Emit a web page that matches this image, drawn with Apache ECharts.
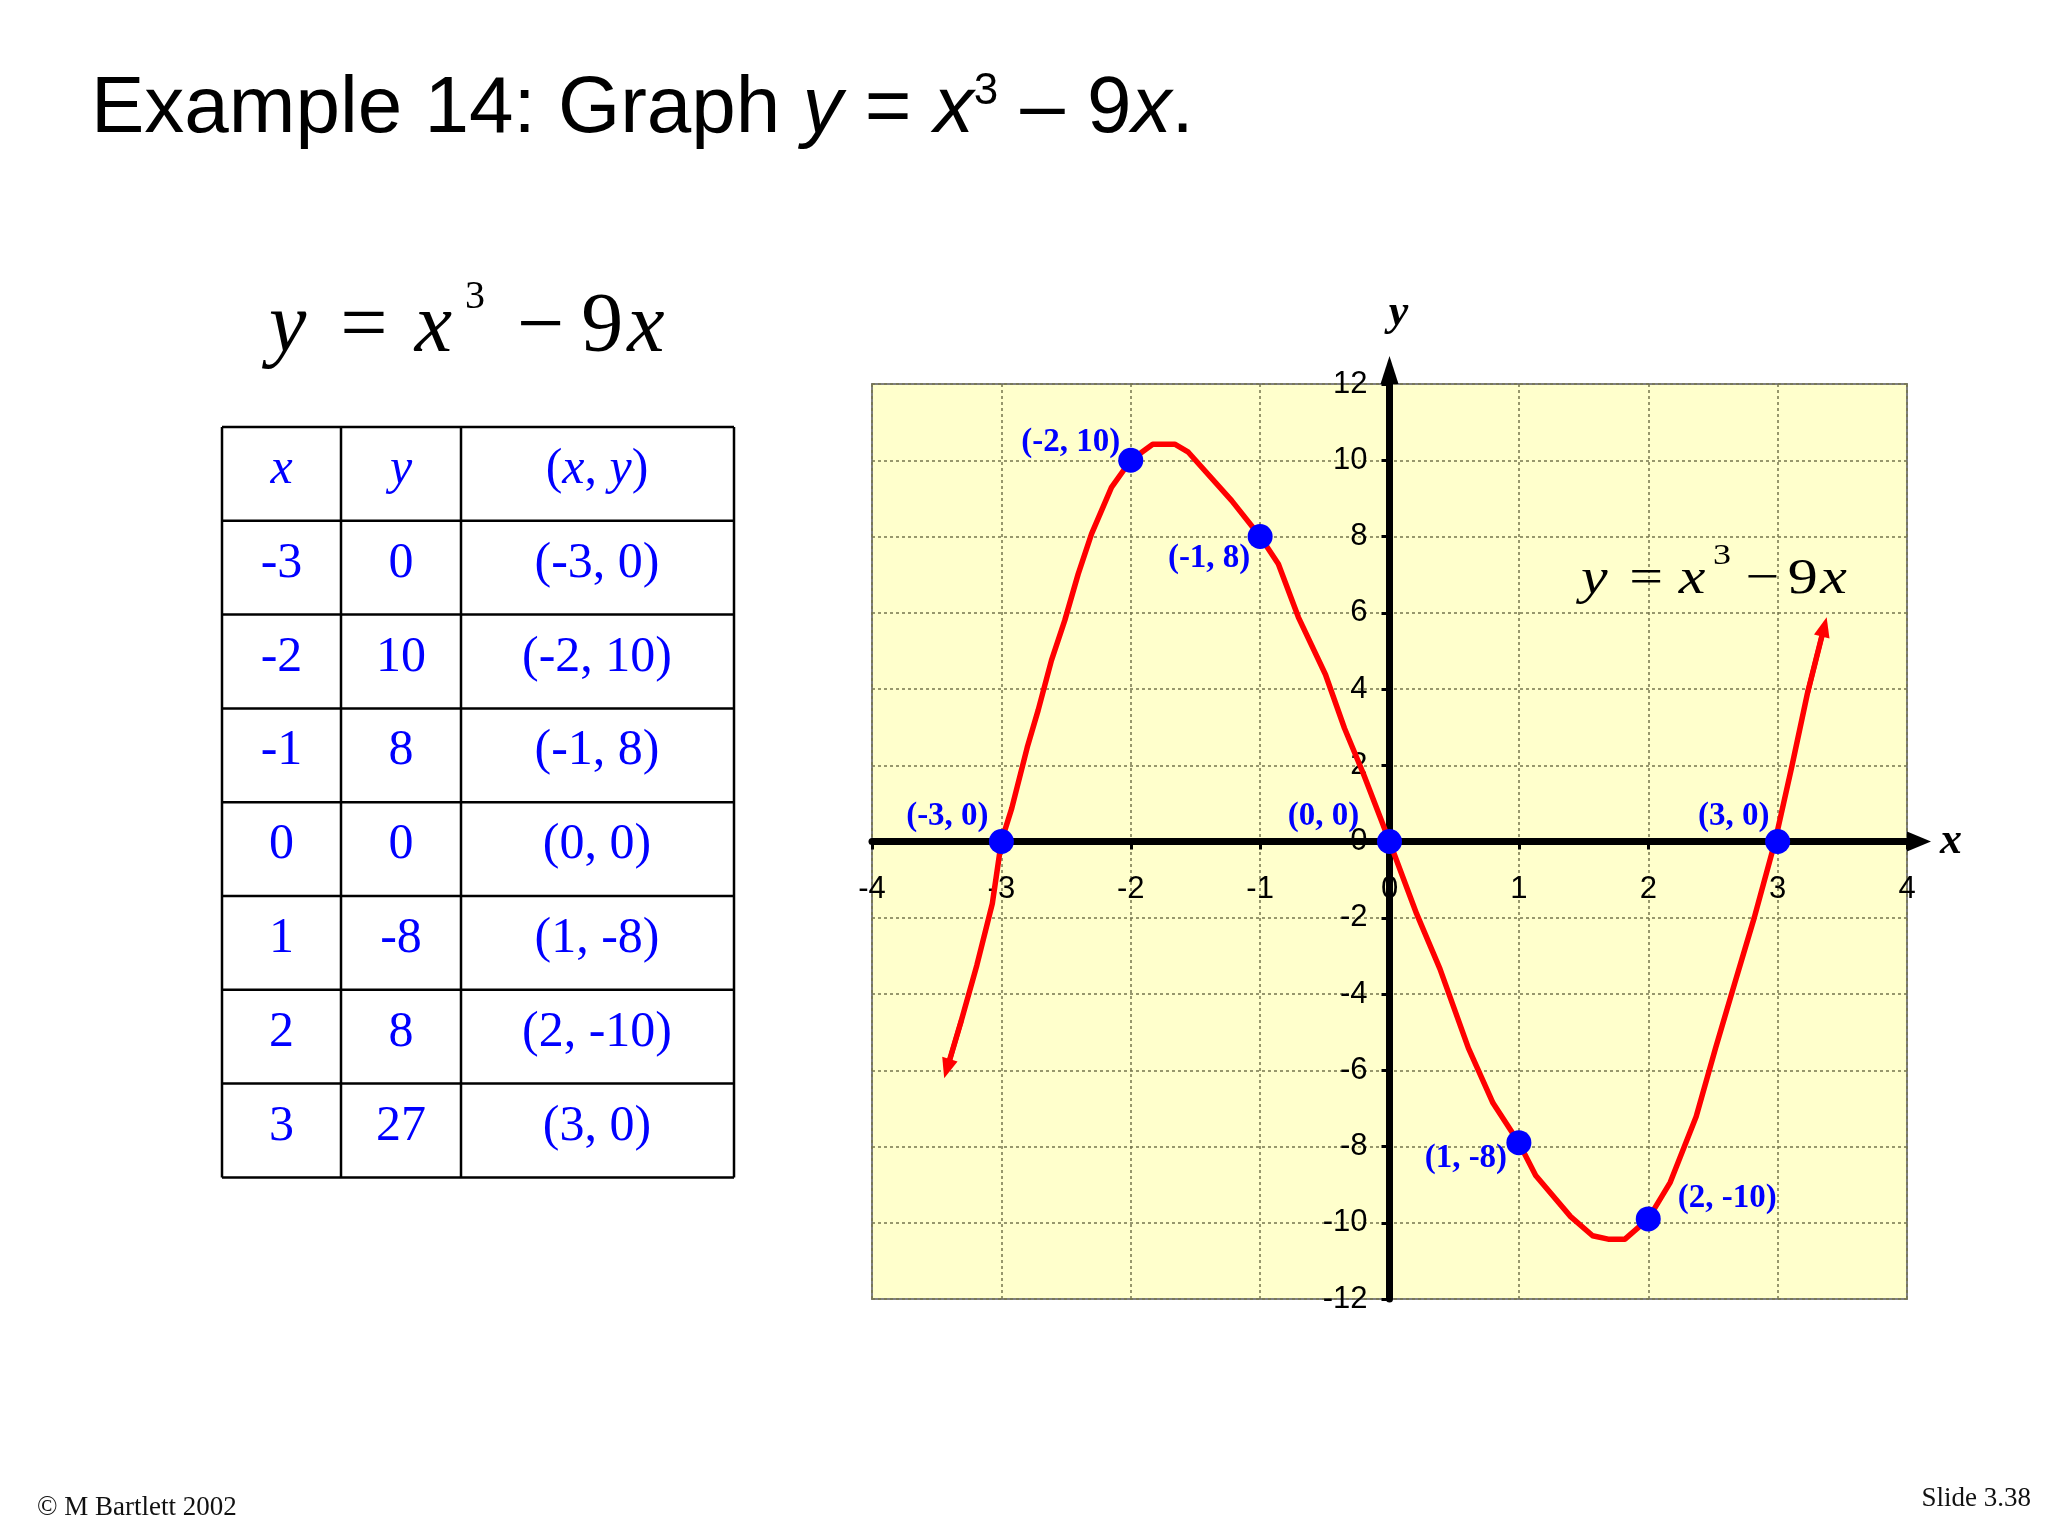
<!DOCTYPE html>
<html><head><meta charset="utf-8">
<script src="https://cdn.jsdelivr.net/npm/echarts@6/dist/echarts.min.js"></script>
<style>html,body{margin:0;padding:0;background:#fff}#c{width:2048px;height:1536px}</style>
</head><body><div id="c"></div>
<script>
// ---- data ----
const curveX = [-3.42, -3.31, -3.19, -3.07, -3.0, -2.92, -2.80, -2.716, -2.613, -2.51, -2.406, -2.303, -2.149, -2.0, -1.83, -1.66, -1.555, -1.22, -1.0, -0.859, -0.704, -0.495, -0.348, -0.201, 0,
  0.21, 0.39, 0.61, 0.80, 1.0, 1.13, 1.40, 1.57, 1.69, 1.82, 2.0, 2.17, 2.37, 2.52, 2.67, 2.82, 2.98, 3.11, 3.23, 3.36];
const curveY = [-5.96, -4.70, -3.25, -1.63, 0, 0.87, 2.47, 3.44, 4.75, 5.80, 7.02, 8.07, 9.29, 10.0, 10.42, 10.42, 10.21, 8.94, 8.0, 7.28, 5.88, 4.38, 2.97, 1.77, 0,
  -1.90, -3.34, -5.42, -6.86, -7.9, -8.76, -9.84, -10.34, -10.43, -10.43, -9.9, -8.94, -7.22, -5.42, -3.70, -1.99, 0, 1.97, 3.88, 5.63];
const pointX = [-3, -2, -1, 0, 1, 2, 3];
const pointY = [0, 10, 8, 0, -7.9, -9.9, 0];
const pointLabels = ['(-3, 0)', '(-2, 10)', '(-1, 8)', '(0, 0)', '(1, -8)', '(2, -10)', '(3, 0)'];
const tableX = ['-3', '-2', '-1', '0', '1', '2', '3'];
const tableY = ['0', '10', '8', '0', '-8', '8', '27'];
const tablePairs = ['(-3, 0)', '(-2, 10)', '(-1, 8)', '(0, 0)', '(1, -8)', '(2, -10)', '(3, 0)'];
const xRange = [-4, 4, 1];
const yRange = [-12, 12, 2];

// ---- layout (positions/styles) ----
const labelOffsets = [[-54, -25], [-60, -18], [-51, 22], [-66, -25], [-53, 16], [79, -20], [-44, -25]];
const SERIF = '"Liberation Serif", "Times New Roman", serif';
const SANS = '"Liberation Sans", Arial, sans-serif';
const BLUE = '#0000FF';
const G = { left: 872, top: 384, width: 1035, height: 915 };
const xZeroFromLeft = G.width * (0 - xRange[0]) / (xRange[1] - xRange[0]);
const yZeroFromBottom = G.height * (0 - yRange[0]) / (yRange[1] - yRange[0]);

const graphics = [];
function T(x, y, text, style, extra) {
  graphics.push(Object.assign({ type: 'text', x: x, y: y, z: 100, silent: true,
    style: Object.assign({ text: text, fill: '#000', align: 'left', verticalAlign: 'middle' }, style) }, extra || {}));
}
function L(x1, y1, x2, y2) {
  graphics.push({ type: 'line', z: 100, silent: true, shape: { x1, y1, x2, y2 },
    style: { stroke: '#000', lineWidth: 2.5 } });
}

// Title
T(91, 110, '{n|Example 14: Graph }{i|y}{n| = }{i|x}{s|3}{n| – 9}{i|x}{n|.}', {
  rich: {
    n: { fontFamily: SANS, fontSize: 80, fill: '#000' },
    i: { fontFamily: SANS, fontSize: 80, fontStyle: 'italic', fill: '#000' },
    s: { fontFamily: SANS, fontSize: 44, fill: '#000', verticalAlign: 'top', lineHeight: 50 }
  }
});

function eqRich(fs, ss, lift, pads) {
  return {
    a: { fontFamily: SERIF, fontSize: fs, fontStyle: 'italic', fill: '#000' },
    b: { fontFamily: SERIF, fontSize: fs, fill: '#000', padding: [0, 0, 0, pads[0]] },
    c: { fontFamily: SERIF, fontSize: fs, fontStyle: 'italic', fill: '#000', padding: [0, 0, 0, pads[1]] },
    s: { fontFamily: SERIF, fontSize: ss, lineHeight: ss, fill: '#000', padding: [0, 0, lift, pads[2]] },
    d: { fontFamily: SERIF, fontSize: fs, fill: '#000', padding: [0, 0, 0, pads[3]] },
    e: { fontFamily: SERIF, fontSize: fs, fill: '#000', padding: [0, 0, 0, pads[4]] },
    f: { fontFamily: SERIF, fontSize: fs, fontStyle: 'italic', fill: '#000', padding: [0, 0, 0, pads[5]] }
  };
}
const EQ = '{a|y}{b|=}{c|x}{s|3}{d|−}{e|9}{f|x}';
T(269, 329, EQ, { rich: eqRich(84, 40, 63, [34, 27, 13, 32, 17, 4]) });
T(1581, 580, EQ, { rich: eqRich(50, 30, 48, [18, 13, 6.5, 11.7, 7.3, 2]) }, { scaleX: 1.2 });

// Table
const tL = 222, tR = 734, cols = [341, 461], tTop = 427, rowH = 93.8, nRows = 8;
L(tL, tTop, tL, tTop + rowH * nRows);
L(tR, tTop, tR, tTop + rowH * nRows);
cols.forEach(c => L(c, tTop, c, tTop + rowH * nRows));
for (let r = 0; r <= nRows; r++) L(tL, tTop + rowH * r, tR, tTop + rowH * r);
const colC = [281.5, 401, 597];
const tf = { fontFamily: SERIF, fontSize: 50, fill: BLUE, align: 'center' };
const rc = r => tTop + rowH * (r + 0.5) - 4;
const itRich = { i: { fontFamily: SERIF, fontSize: 50, fontStyle: 'italic', fill: BLUE }, n: { fontFamily: SERIF, fontSize: 50, fill: BLUE } };
T(colC[0], rc(0), '{i|x}', Object.assign({}, tf, { rich: itRich }));
T(colC[1], rc(0), '{i|y}', Object.assign({}, tf, { rich: itRich }));
T(colC[2], rc(0), '{n|(}{i|x}{n|, }{i|y}{n|)}', Object.assign({}, tf, { rich: itRich }));
for (let i = 0; i < tableX.length; i++) {
  T(colC[0], rc(i + 1), tableX[i], tf);
  T(colC[1], rc(i + 1), tableY[i], tf);
  T(colC[2], rc(i + 1), tablePairs[i], tf);
}

// Footer
T(37, 1508, '© M Bartlett 2002', { fontFamily: SERIF, fontSize: 27, fill: '#111' });
T(2031, 1499, 'Slide 3.38', { fontFamily: SERIF, fontSize: 27, fill: '#111', align: 'right' });

const axisCommon = {
  type: 'value',
  axisLine: { show: true, onZero: false, symbol: ['none', 'triangle'], lineStyle: { color: '#000', width: 7 } },
  axisTick: { show: true, length: 8, lineStyle: { color: '#000', width: 3 } },
  splitLine: { show: true, lineStyle: { color: '#76764e', width: 1.5, type: [3, 3] } }
};
const nameStyle = { fontFamily: SERIF, fontStyle: 'italic', fontWeight: 'bold', fontSize: 44, color: '#000' };

const option = {
  animation: false,
  backgroundColor: '#ffffff',
  grid: Object.assign({ show: true, backgroundColor: '#FFFFCC', borderColor: '#808080', borderWidth: 2, containLabel: false }, G),
  xAxis: Object.assign({}, axisCommon, {
    min: xRange[0], max: xRange[1], interval: xRange[2],
    position: 'bottom', offset: -yZeroFromBottom,
    axisLine: Object.assign({}, axisCommon.axisLine, { symbolSize: [20, 24], symbolOffset: [0, 12] }),
    axisLabel: { color: '#000', fontFamily: SANS, fontSize: 31, margin: 32 },
    name: 'x', nameLocation: 'end', nameGap: 33, nameTextStyle: nameStyle
  }),
  yAxis: Object.assign({}, axisCommon, {
    min: yRange[0], max: yRange[1], interval: yRange[2],
    position: 'left', offset: -xZeroFromLeft,
    axisLine: Object.assign({}, axisCommon.axisLine, { symbolSize: [18, 28], symbolOffset: [0, 14] }),
    axisLabel: { color: '#000', fontFamily: SANS, fontSize: 31, margin: 22 },
    name: 'y', nameLocation: 'end', nameGap: 48, nameTextStyle: Object.assign({ padding: [0, 0, 0, 18] }, nameStyle)
  }),
  graphic: { elements: graphics },
  series: [
    {
      type: 'line', z: 3, symbol: 'none', showSymbol: false, smooth: false,
      data: curveX.map((x, i) => [x, curveY[i]]),
      lineStyle: { color: '#FF0000', width: 5.5, cap: 'round', join: 'round' },
      markLine: {
        silent: true, symbol: ['none', 'triangle'], symbolSize: [16, 20],
        lineStyle: { color: '#FF0000', width: 5, type: 'solid' },
        label: { show: false },
        data: [
          [{ coord: [curveX[1], curveY[1]] }, { coord: [curveX[0], curveY[0]] }],
          [{ coord: [curveX[curveX.length - 2], curveY[curveY.length - 2]] }, { coord: [curveX[curveX.length - 1], curveY[curveY.length - 1]] }]
        ]
      }
    },
    {
      type: 'scatter', z: 5, symbol: 'circle', symbolSize: 25,
      itemStyle: { color: BLUE, opacity: 1 },
      data: pointX.map((x, i) => ({ value: [x, pointY[i]], label: { offset: labelOffsets[i] } })),
      label: {
        show: true, position: 'inside', color: BLUE, fontFamily: SERIF, fontWeight: 'bold', fontSize: 33,
        formatter: p => pointLabels[p.dataIndex]
      }
    }
  ]
};
const chart = echarts.init(document.getElementById('c'), null, { renderer: 'canvas' });
chart.setOption(option);
</script></body></html>
